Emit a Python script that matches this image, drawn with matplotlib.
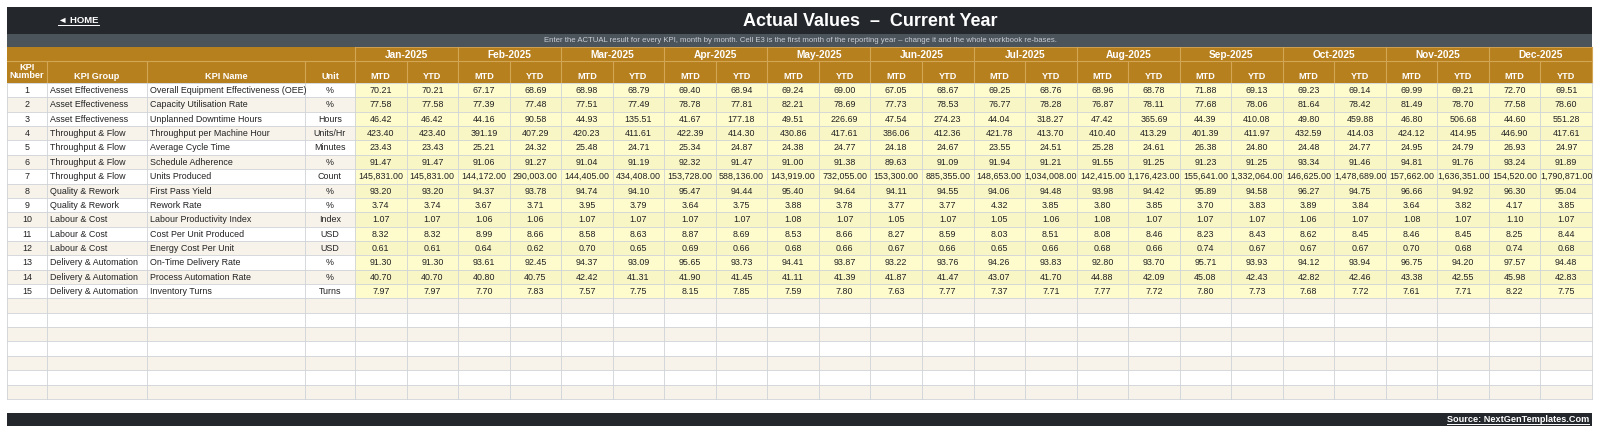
import matplotlib
matplotlib.use('Agg')
import matplotlib.pyplot as plt
from matplotlib.patches import Rectangle

plt.rcParams['font.family'] = ['Liberation Sans', 'DejaVu Sans']

months = ["Jan-2025", "Feb-2025", "Mar-2025", "Apr-2025", "May-2025", "Jun-2025",
          "Jul-2025", "Aug-2025", "Sep-2025", "Oct-2025", "Nov-2025", "Dec-2025"]

kpi_groups = ["Asset Effectiveness", "Asset Effectiveness", "Asset Effectiveness",
              "Throughput & Flow", "Throughput & Flow", "Throughput & Flow", "Throughput & Flow",
              "Quality & Rework", "Quality & Rework",
              "Labour & Cost", "Labour & Cost", "Labour & Cost",
              "Delivery & Automation", "Delivery & Automation", "Delivery & Automation"]
kpi_names = ["Overall Equipment Effectiveness (OEE)", "Capacity Utilisation Rate",
             "Unplanned Downtime Hours", "Throughput per Machine Hour", "Average Cycle Time",
             "Schedule Adherence", "Units Produced", "First Pass Yield", "Rework Rate",
             "Labour Productivity Index", "Cost Per Unit Produced", "Energy Cost Per Unit",
             "On-Time Delivery Rate", "Process Automation Rate", "Inventory Turns"]
units = ["%", "%", "Hours", "Units/Hr", "Minutes", "%", "Count", "%", "%",
         "Index", "USD", "USD", "%", "%", "Turns"]

mtd = [
    [70.21, 67.17, 68.98, 69.40, 69.24, 67.05, 69.25, 68.96, 71.88, 69.23, 69.99, 72.70],
    [77.58, 77.39, 77.51, 78.78, 82.21, 77.73, 76.77, 76.87, 77.68, 81.64, 81.49, 77.58],
    [46.42, 44.16, 44.93, 41.67, 49.51, 47.54, 44.04, 47.42, 44.39, 49.80, 46.80, 44.60],
    [423.40, 391.19, 420.23, 422.39, 430.86, 386.06, 421.78, 410.40, 401.39, 432.59, 424.12, 446.90],
    [23.43, 25.21, 25.48, 25.34, 24.38, 24.18, 23.55, 25.28, 26.38, 24.48, 24.95, 26.93],
    [91.47, 91.06, 91.04, 92.32, 91.00, 89.63, 91.94, 91.55, 91.23, 93.34, 94.81, 93.24],
    [145831, 144172, 144405, 153728, 143919, 153300, 148653, 142415, 155641, 146625, 157662, 154520],
    [93.20, 94.37, 94.74, 95.47, 95.40, 94.11, 94.06, 93.98, 95.89, 96.27, 96.66, 96.30],
    [3.74, 3.67, 3.95, 3.64, 3.88, 3.77, 4.32, 3.80, 3.70, 3.89, 3.64, 4.17],
    [1.07, 1.06, 1.07, 1.07, 1.08, 1.05, 1.05, 1.08, 1.07, 1.06, 1.08, 1.10],
    [8.32, 8.99, 8.58, 8.87, 8.53, 8.27, 8.03, 8.08, 8.23, 8.62, 8.46, 8.25],
    [0.61, 0.64, 0.70, 0.69, 0.68, 0.67, 0.65, 0.68, 0.74, 0.67, 0.70, 0.74],
    [91.30, 93.61, 94.37, 95.65, 94.41, 93.22, 94.26, 92.80, 95.71, 94.12, 96.75, 97.57],
    [40.70, 40.80, 42.42, 41.90, 41.11, 41.87, 43.07, 44.88, 45.08, 42.82, 43.38, 45.98],
    [7.97, 7.70, 7.57, 8.15, 7.59, 7.63, 7.37, 7.77, 7.80, 7.68, 7.61, 8.22],
]
ytd = [
    [70.21, 68.69, 68.79, 68.94, 69.00, 68.67, 68.76, 68.78, 69.13, 69.14, 69.21, 69.51],
    [77.58, 77.48, 77.49, 77.81, 78.69, 78.53, 78.28, 78.11, 78.06, 78.42, 78.70, 78.60],
    [46.42, 90.58, 135.51, 177.18, 226.69, 274.23, 318.27, 365.69, 410.08, 459.88, 506.68, 551.28],
    [423.40, 407.29, 411.61, 414.30, 417.61, 412.36, 413.70, 413.29, 411.97, 414.03, 414.95, 417.61],
    [23.43, 24.32, 24.71, 24.87, 24.77, 24.67, 24.51, 24.61, 24.80, 24.77, 24.79, 24.97],
    [91.47, 91.27, 91.19, 91.47, 91.38, 91.09, 91.21, 91.25, 91.25, 91.46, 91.76, 91.89],
    [145831, 290003, 434408, 588136, 732055, 885355, 1034008, 1176423, 1332064, 1478689, 1636351, 1790871],
    [93.20, 93.78, 94.10, 94.44, 94.64, 94.55, 94.48, 94.42, 94.58, 94.75, 94.92, 95.04],
    [3.74, 3.71, 3.79, 3.75, 3.78, 3.77, 3.85, 3.85, 3.83, 3.84, 3.82, 3.85],
    [1.07, 1.06, 1.07, 1.07, 1.07, 1.07, 1.06, 1.07, 1.07, 1.07, 1.07, 1.07],
    [8.32, 8.66, 8.63, 8.69, 8.66, 8.59, 8.51, 8.46, 8.43, 8.45, 8.45, 8.44],
    [0.61, 0.62, 0.65, 0.66, 0.66, 0.66, 0.66, 0.66, 0.67, 0.67, 0.68, 0.68],
    [91.30, 92.45, 93.09, 93.73, 93.87, 93.76, 93.83, 93.70, 93.93, 93.94, 94.20, 94.48],
    [40.70, 40.75, 41.31, 41.45, 41.39, 41.47, 41.70, 42.09, 42.43, 42.46, 42.55, 42.83],
    [7.97, 7.83, 7.75, 7.85, 7.80, 7.77, 7.71, 7.72, 7.73, 7.72, 7.71, 7.75],
]
n_empty = 7

# colours
DARK = "#24282d"
SLATE = "#4b535b"
GOLD = "#b7801f"
GOLD_LINE = "#d3a655"
GRID = "#cfd3d7"
BEIGE = "#f7f3eb"
YEL1 = "#fefccd"
YEL2 = "#f9f6c6"
TXT = "#222222"

W, H = 1600, 433
fig = plt.figure(figsize=(W / 100, H / 100), dpi=100)
ax = fig.add_axes([0, 0, 1, 1])
ax.set_xlim(0, W)
ax.set_ylim(H, 0)
ax.axis('off')

x0, x1 = 7, 1592
left_edges = [7, 47, 147, 305, 355]
mw = (x1 - 355) / 24.0
col_edges = left_edges + [355 + mw * (i + 1) for i in range(24)]

y_top, y_sub, y_h1, y_h2, y_data = 7, 34, 47, 61, 83
rh = 14.36
n_rows = len(kpi_names) + n_empty
y_end = y_data + rh * n_rows


def rect(xa, ya, xb, yb, fc, ec='none', lw=0):
    ax.add_patch(Rectangle((xa, ya), xb - xa, yb - ya, facecolor=fc,
                           edgecolor=ec, linewidth=lw))


def underline(t, y):
    # line under a text, as wide as the text
    fig.canvas.draw()
    bb = t.get_window_extent().transformed(ax.transData.inverted())
    ax.plot([bb.x0, bb.x1], [y, y], color="white", lw=0.7)


# top banners
rect(x0, y_top, x1, y_sub, DARK)
rect(x0, y_sub, x1, y_h1, SLATE)
home = ax.text(58, 20.5, "\u25c4 HOME", color="white", fontsize=6.8, fontweight="bold",
               ha="left", va="center")
underline(home, 25)
ax.text(870, 21, "Actual Values  \u2013  Current Year", color="white", fontsize=13,
        fontweight="bold", ha="center", va="center")
ax.text(800, 40.5, "Enter the ACTUAL result for every KPI, month by month. Cell E3 is the first "
        "month of the reporting year \u2013 change it and the whole workbook re-bases.",
        color="#c9ced3", fontsize=5.6, ha="center", va="center")

# header rows
rect(x0, y_h1, x1, y_data, GOLD)
for i, m in enumerate(months):
    xa = col_edges[4 + 2 * i]
    xb = col_edges[6 + 2 * i]
    ax.text((xa + xb) / 2, (y_h1 + y_h2) / 2 + 0.5, m, color="white", fontsize=7.3,
            fontweight="bold", ha="center", va="center")
    for k, lab in enumerate(["MTD", "YTD"]):
        ca, cb = col_edges[4 + 2 * i + k], col_edges[5 + 2 * i + k]
        ax.text((ca + cb) / 2, 76.5, lab, color="white", fontsize=6.6,
                fontweight="bold", ha="center", va="center")
head_labels = ["KPI\nNumber", "KPI Group", "KPI Name", "Unit"]
for j, lab in enumerate(head_labels):
    ca, cb = col_edges[j], col_edges[j + 1]
    yy = 71.5 if j == 0 else 76.5
    ax.text((ca + cb) / 2, yy, lab, color="white", fontsize=6.6, fontweight="bold",
            ha="center", va="center", linespacing=1.0)
# header lines
ax.plot([x0, x1], [y_h2, y_h2], color=GOLD_LINE, lw=0.8)
ax.plot([355, x1], [y_h1, y_h1], color=GOLD_LINE, lw=0.6)
for i in range(13):
    xe = col_edges[4 + 2 * i]
    ax.plot([xe, xe], [y_h1, y_data], color=GOLD_LINE, lw=0.8)
for i in range(12):
    xe = col_edges[5 + 2 * i]
    ax.plot([xe, xe], [y_h2, y_data], color=GOLD_LINE, lw=0.8)
for j in range(1, 4):
    ax.plot([col_edges[j]] * 2, [y_h2, y_data], color=GOLD_LINE, lw=0.8)


def fmt(v):
    return "{:,.2f}".format(v)


# body rows
for r in range(n_rows):
    ya = y_data + r * rh
    yb = ya + rh
    yc = (ya + yb) / 2 + 0.3
    even = r % 2 == 1
    left_bg = BEIGE if even else "white"
    rect(x0, ya, col_edges[4], yb, left_bg)
    if r < len(kpi_names):
        rect(col_edges[4], ya, x1, yb, YEL2 if even else YEL1)
        ax.text((col_edges[0] + col_edges[1]) / 2, yc, str(r + 1), fontsize=6.4,
                color=TXT, ha="center", va="center")
        ax.text(col_edges[1] + 3, yc, kpi_groups[r], fontsize=6.4, color=TXT,
                ha="left", va="center")
        ax.text(col_edges[2] + 3, yc, kpi_names[r], fontsize=6.4, color=TXT,
                ha="left", va="center")
        ax.text((col_edges[3] + col_edges[4]) / 2, yc, units[r], fontsize=6.4,
                color=TXT, ha="center", va="center")
        for i in range(12):
            for k, val in enumerate([mtd[r][i], ytd[r][i]]):
                ca, cb = col_edges[4 + 2 * i + k], col_edges[5 + 2 * i + k]
                ax.text((ca + cb) / 2, yc, fmt(val), fontsize=6.4, color=TXT,
                        ha="center", va="center")
    else:
        rect(col_edges[4], ya, x1, yb, left_bg)

# grid
for r in range(n_rows + 1):
    yy = y_data + r * rh
    ax.plot([x0, x1], [yy, yy], color=GRID, lw=0.6)
for xe in col_edges:
    ax.plot([xe, xe], [y_data, y_end], color=GRID, lw=0.6)

# footer
rect(x0, 413, x1, 426, DARK)
src = ax.text(1589, 419.5, "Source: NextGenTemplates.Com", color="white", fontsize=6.6,
              fontweight="bold", ha="right", va="center")
underline(src, 424)

fig.savefig("out.png", dpi=100, facecolor="white")
